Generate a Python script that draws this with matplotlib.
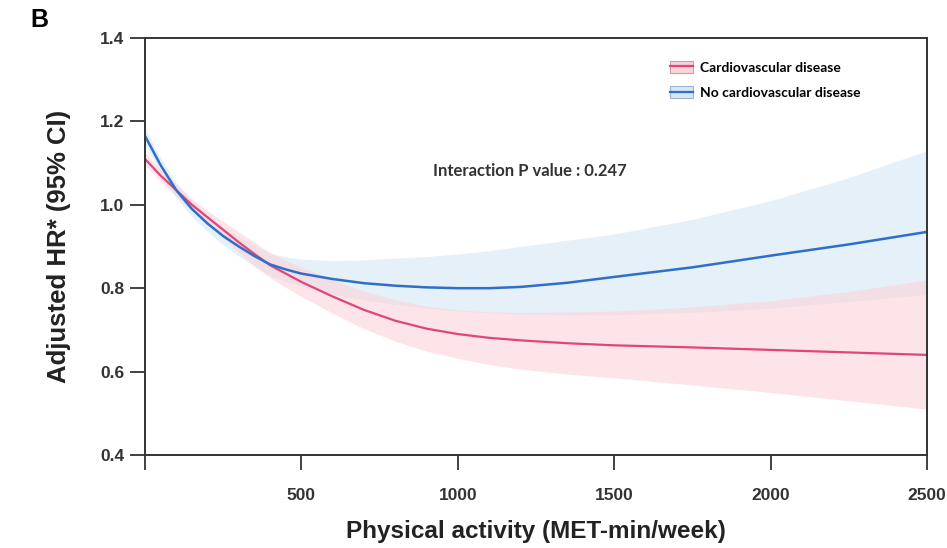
import matplotlib
matplotlib.use("Agg")
import matplotlib.pyplot as plt
from matplotlib.patches import Patch
from matplotlib.lines import Line2D

# MET-min/week grid
met = [0, 50, 100, 150, 200, 250, 300, 350, 400, 450, 500, 600, 700, 800, 900, 1000,
       1100, 1200, 1350, 1500, 1750, 2000, 2250, 2500]

# No cardiovascular disease (blue)
hr_no = [1.165, 1.095, 1.035, 0.990, 0.955, 0.925, 0.900, 0.877, 0.857, 0.845, 0.835, 0.822,
         0.812, 0.806, 0.802, 0.800, 0.800, 0.803, 0.813, 0.827, 0.850, 0.878, 0.905, 0.935]
lo_no = [1.145, 1.077, 1.017, 0.972, 0.936, 0.904, 0.877, 0.852, 0.830, 0.816, 0.805, 0.786,
         0.772, 0.761, 0.752, 0.746, 0.741, 0.738, 0.736, 0.736, 0.742, 0.752, 0.768, 0.785]
hi_no = [1.185, 1.113, 1.053, 1.008, 0.974, 0.946, 0.923, 0.902, 0.884, 0.875, 0.870, 0.866,
         0.868, 0.872, 0.876, 0.882, 0.890, 0.900, 0.915, 0.930, 0.965, 1.010, 1.065, 1.130]

# Cardiovascular disease (pink)
hr_cv = [1.110, 1.070, 1.035, 1.000, 0.970, 0.940, 0.910, 0.882, 0.855, 0.835, 0.815, 0.780,
         0.748, 0.722, 0.703, 0.690, 0.681, 0.675, 0.668, 0.663, 0.658, 0.652, 0.646, 0.640]
lo_cv = [1.095, 1.056, 1.020, 0.986, 0.954, 0.920, 0.886, 0.854, 0.825, 0.802, 0.780, 0.740,
         0.703, 0.673, 0.649, 0.632, 0.617, 0.606, 0.594, 0.585, 0.568, 0.550, 0.530, 0.510]
hi_cv = [1.125, 1.084, 1.050, 1.015, 0.986, 0.960, 0.935, 0.910, 0.885, 0.867, 0.850, 0.820,
         0.793, 0.772, 0.757, 0.748, 0.743, 0.742, 0.743, 0.745, 0.755, 0.770, 0.792, 0.820]

xticks = [0, 500, 1000, 1500, 2000, 2500]
xlabels = ["", "500", "1000", "1500", "2000", "2500"]
yticks = [0.4, 0.6, 0.8, 1.0, 1.2, 1.4]

blue = "#2f6fc8"
pink = "#e0457b"
blue_fill = "#d6e6f5"
pink_fill = "#fbd3d9"

plt.rcParams['font.family'] = ['Liberation Sans', 'DejaVu Sans']

fig = plt.figure(figsize=(9.47, 5.48), dpi=100)
ax = fig.add_axes([0.1531, 0.1697, 0.8258, 0.761])

ax.fill_between(met, lo_no, hi_no, color=blue_fill, alpha=0.6, lw=0)
ax.fill_between(met, lo_cv, hi_cv, color=pink_fill, alpha=0.6, lw=0)
ax.plot(met, hr_cv, color=pink, lw=1.6)
ax.plot(met, hr_no, color=blue, lw=1.8)

ax.set_xlim(0, 2500)
ax.set_ylim(0.4, 1.4)
ax.set_xticks(xticks)
ax.set_xticklabels(xlabels)
ax.set_yticks(yticks)
ax.set_yticklabels([f"{v:.1f}" for v in yticks])
ax.tick_params(axis='both', direction='out', length=11, width=1.3, color='#333333',
               labelsize=12.5, labelcolor='#333333')
ax.tick_params(axis='x', pad=13)
ax.tick_params(axis='y', pad=4)
for lab in ax.get_xticklabels() + ax.get_yticklabels():
    lab.set_fontweight('bold')
for s in ax.spines.values():
    s.set_linewidth(1.4)
    s.set_color('#333333')

ax.set_xlabel("Physical activity (MET-min/week)", fontsize=17.5, fontweight='bold',
              color='#222222', labelpad=12)
ax.set_ylabel("Adjusted HR* (95% CI)", fontsize=18.5, fontweight='bold',
              color='#222222', labelpad=21)

ax.text(921, 1.081, "Interaction P value : 0.247", fontsize=12, fontweight='bold',
        family=['Lato', 'DejaVu Sans'], color='#333333', va='center')

handles = [
    (Patch(facecolor=pink_fill, edgecolor='#c9a0a8', lw=0.8), Line2D([], [], color=pink, lw=1.6)),
    (Patch(facecolor=blue_fill, edgecolor='#9fb3c9', lw=0.8), Line2D([], [], color=blue, lw=1.6)),
]
ax.legend(handles, ["Cardiovascular disease", "No cardiovascular disease"],
          loc='upper left', bbox_to_anchor=(0.655, 0.975), frameon=False,
          prop={'family': ['Lato', 'DejaVu Sans'], 'weight': 'bold', 'size': 10},
          handlelength=1.65, handleheight=0.95, handletextpad=0.5, labelspacing=0.9)

fig.text(0.032, 0.963, "B", fontsize=18, fontweight='bold', va='center')

fig.savefig("out.png", dpi=100)
